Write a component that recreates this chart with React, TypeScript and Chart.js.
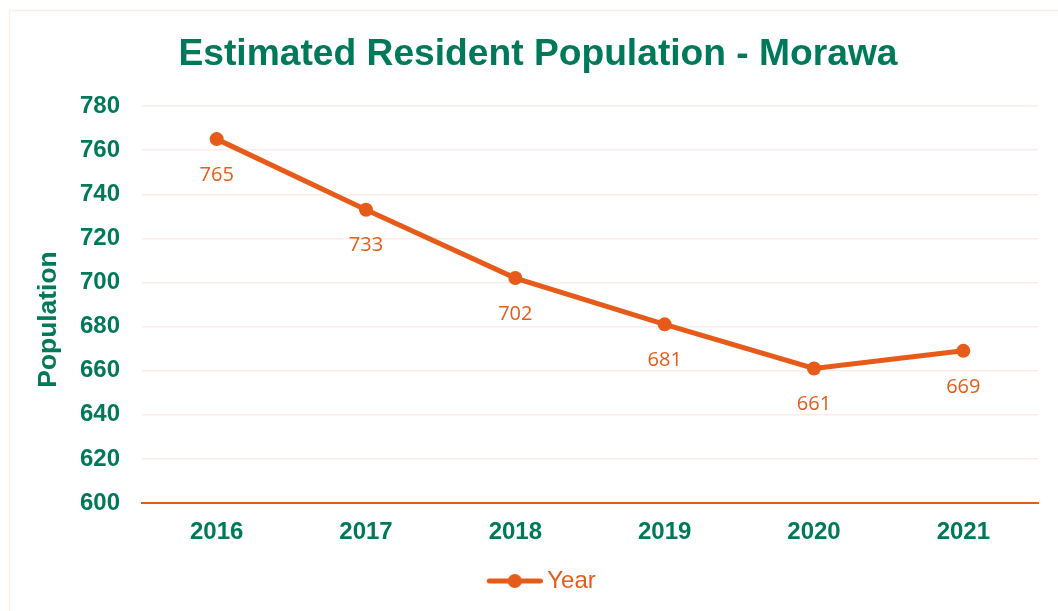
import React, { useEffect, useRef } from "react";
import { Chart, registerables } from "chart.js";

Chart.register(...registerables);

const years: string[] = ["2016", "2017", "2018", "2019", "2020", "2021"];
const population: number[] = [765, 733, 702, 681, 661, 669];
const seriesName = "Year";
const chartTitle = "Estimated Resident Population - Morawa";
const yAxisTitle = "Population";
const yMin = 600;
const yMax = 780;
const yStep = 20;

const GREEN = "#00785A";
const ORANGE = "#E65B1A";
const GRID = "#FCECE7";

function makeLegendSymbol(): HTMLCanvasElement {
  const c = document.createElement("canvas");
  c.width = 70;
  c.height = 18;
  const g = c.getContext("2d")!;
  g.strokeStyle = ORANGE;
  g.lineWidth = 5;
  g.lineCap = "round";
  g.beginPath();
  g.moveTo(16.5, 9);
  g.lineTo(67.5, 9);
  g.stroke();
  g.fillStyle = ORANGE;
  g.beginPath();
  g.arc(42, 9, 7, 0, Math.PI * 2);
  g.fill();
  return c;
}

const borderPlugin = {
  id: "outerBorder",
  beforeDraw(chart: any) {
    const ctx = chart.ctx;
    ctx.save();
    ctx.fillStyle = "#ffffff";
    ctx.fillRect(0, 0, chart.width, chart.height);
    ctx.strokeStyle = "#FCEDE8";
    ctx.lineWidth = 1.5;
    ctx.strokeRect(9.5, 10.5, chart.width + 20, chart.height + 20);
    ctx.restore();
  },
};

// Vertical axis title, placed beside the y scale
const yTitlePlugin = {
  id: "yTitle",
  afterDraw(chart: any) {
    const ctx = chart.ctx;
    const ys = chart.scales.y;
    ctx.save();
    ctx.fillStyle = GREEN;
    ctx.font = "bold 26.4px 'Liberation Sans', Arial";
    ctx.textAlign = "center";
    ctx.textBaseline = "middle";
    ctx.translate(ys.left + 10.5, (ys.top + ys.bottom) / 2 + 15);
    ctx.rotate(-Math.PI / 2);
    ctx.fillText(yAxisTitle, 0, 0);
    ctx.restore();
  },
};

const dataLabelPlugin = {
  id: "dataLabels",
  afterDatasetsDraw(chart: any) {
    const ctx = chart.ctx;
    const meta = chart.getDatasetMeta(0);
    ctx.save();
    ctx.fillStyle = ORANGE;
    ctx.font = "20px 'Open Sans'";
    ctx.textAlign = "center";
    ctx.textBaseline = "middle";
    meta.data.forEach((pt: any, i: number) => {
      ctx.fillText(String(population[i]), pt.x, pt.y + 36);
    });
    ctx.restore();
  },
};

export default function App() {
  const ref = useRef<HTMLCanvasElement | null>(null);

  useEffect(() => {
    document.body.style.margin = "0";
    const canvas = ref.current!;
    const symbol = makeLegendSymbol();
    const tickFont = { family: "'Liberation Sans', Arial", size: 24, weight: "bold" as const };
    const chart = new Chart(canvas, {
      type: "line",
      data: {
        labels: years,
        datasets: [
          {
            label: seriesName,
            data: population,
            borderColor: ORANGE,
            backgroundColor: ORANGE,
            borderWidth: 5,
            pointRadius: 7,
            pointHoverRadius: 7,
            pointBackgroundColor: ORANGE,
            pointBorderWidth: 0,
            tension: 0,
          },
        ],
      },
      options: {
        responsive: false,
        animation: false,
        devicePixelRatio: 1,
        layout: { padding: { left: 38, right: 20, top: 0, bottom: 8 } },
        plugins: {
          title: {
            display: true,
            text: chartTitle,
            color: GREEN,
            font: { family: "'Liberation Sans', Arial", size: 37.2, weight: "bold" },
            padding: { top: 32.7, bottom: 28.7 },
          },
          legend: {
            display: true,
            position: "bottom",
            labels: {
              usePointStyle: true,
              pointStyle: symbol as any,
              pointStyleWidth: 55,
              boxHeight: 18,
              color: ORANGE,
              padding: 10,
              font: { family: "'Liberation Sans', Arial", size: 24 },
            },
          },
          tooltip: { enabled: false },
        },
        scales: {
          x: {
            offset: true,
            grid: { display: false, drawTicks: false },
            border: { display: true, color: ORANGE, width: 2 },
            ticks: {
              color: GREEN,
              padding: 15,
              font: tickFont,
            },
            afterFit: (s: any) => {
              s.height = 56;
            },
          },
          y: {
            min: yMin,
            max: yMax,
            grid: { color: GRID, lineWidth: 1.5, drawTicks: false },
            border: { display: false },
            ticks: {
              stepSize: yStep,
              color: GREEN,
              padding: 22,
              font: tickFont,
            },
            afterFit: (s: any) => {
              s.width = 104;
            },
          },
        },
      },
      plugins: [borderPlugin, dataLabelPlugin, yTitlePlugin],
    });
    return () => chart.destroy();
  }, []);

  return <canvas ref={ref} width={1058} height={611} style={{ display: "block" }} />;
}
